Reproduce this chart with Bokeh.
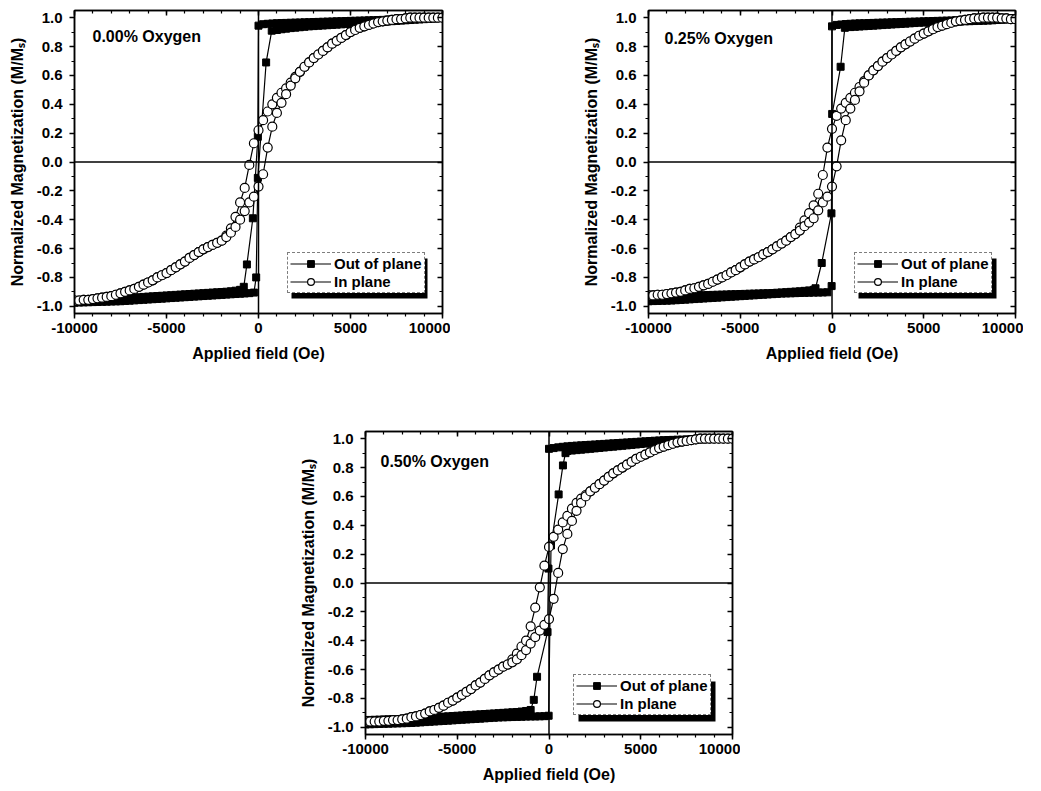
from bokeh.plotting import figure
from bokeh.models import (Range1d, LinearAxis, Span, Legend, LegendItem, BoxAnnotation,
                          Label, Spacer, SingleIntervalTicker, NumeralTickFormatter)
from bokeh.layouts import column, row
from bokeh.embed import file_html
from bokeh.resources import INLINE

FONT = "Liberation Sans"

# ---------------- field grids (Oe) ----------------
BAND_POS = [250, 500, 750, 1000, 1250, 1500, 1750, 2000, 2250, 2500,
            2750, 3000, 3250, 3500, 3750, 4000, 4250, 4500, 4750, 5000,
            5250, 5500, 5750, 6000, 6250, 6500, 6750, 7000, 7250, 7500,
            7750, 8000, 8250, 8500, 8750, 9000, 9250, 9500, 9750, 10000]
BAND_NEG = [-10000, -9750, -9500, -9250, -9000, -8750, -8500, -8250, -8000, -7750,
            -7500, -7250, -7000, -6750, -6500, -6250, -6000, -5750, -5500, -5250,
            -5000, -4750, -4500, -4250, -4000, -3750, -3500, -3250, -3000, -2750,
            -2500, -2250, -2000, -1750, -1500, -1250, -1000, -750, -500, -250]
G_MID = [-2000, -1750, -1500, -1250, -1000, -750, -500, -250, 0,
         250, 500, 750, 1000, 1250, 1500, 1750, 2000]
G_NEG = BAND_NEG[:32]      # -10000 .. -2250
G_POS = BAND_POS[8:]       # 2250 .. 10000
D_LOW_X = BAND_NEG[:37]    # -10000 .. -1000
A_UP_X = BAND_POS[3:]      # 1000 .. 10000

# ---------------- panel 1 : 0.00% Oxygen ----------------
IP1_NEG = [-0.96, -0.96, -0.955, -0.955, -0.95, -0.945, -0.94, -0.935, -0.93, -0.92,
           -0.91, -0.90, -0.89, -0.88, -0.865, -0.85, -0.835, -0.82, -0.80, -0.785,
           -0.77, -0.75, -0.73, -0.71, -0.69, -0.665, -0.645, -0.625, -0.605, -0.59,
           -0.575, -0.56]
IP1_DMID = [-0.545, -0.51, -0.46, -0.38, -0.28, -0.18, -0.02, 0.13, 0.22,
            0.29, 0.35, 0.40, 0.445, 0.48, 0.51, 0.55, 0.59]
IP1_AMID = [-0.545, -0.52, -0.49, -0.45, -0.40, -0.34, -0.28, -0.24, -0.17,
            -0.085, 0.10, 0.245, 0.34, 0.41, 0.47, 0.53, 0.58]
IP1_POS = [0.625, 0.66, 0.69, 0.72, 0.745, 0.77, 0.795, 0.82, 0.84, 0.86,
           0.88, 0.90, 0.915, 0.93, 0.94, 0.95, 0.96, 0.97, 0.975, 0.98,
           0.985, 0.99, 0.99, 0.995, 1.0, 1.0, 1.0, 1.0, 1.0, 1.0, 1.0, 1.0]
OP1_DUP = [0.955, 0.958, 0.960, 0.962, 0.963, 0.964, 0.965, 0.966, 0.967, 0.968,
           0.969, 0.970, 0.971, 0.972, 0.973, 0.974, 0.975, 0.976, 0.977, 0.978,
           0.979, 0.980, 0.981, 0.982, 0.983, 0.984, 0.985, 0.986, 0.987, 0.988,
           0.989, 0.990, 0.991, 0.992, 0.993, 0.994, 0.995, 0.996, 0.998, 1.000]
OP1_DMID_X = [0, -36, -306, -630, -800]
OP1_DMID_Y = [0.945, 0.175, -0.39, -0.71, -0.865]
OP1_DLOW = [-0.965, -0.963, -0.961, -0.959, -0.957, -0.955, -0.953, -0.951, -0.949, -0.947,
            -0.945, -0.943, -0.941, -0.939, -0.937, -0.935, -0.933, -0.931, -0.929, -0.927,
            -0.925, -0.923, -0.921, -0.919, -0.917, -0.915, -0.913, -0.911, -0.909, -0.907,
            -0.905, -0.903, -0.901, -0.899, -0.896, -0.892, -0.886]
OP1_ALOW = [-0.975, -0.974, -0.973, -0.972, -0.971, -0.970, -0.969, -0.968, -0.967, -0.966,
            -0.965, -0.963, -0.961, -0.959, -0.957, -0.955, -0.953, -0.951, -0.949, -0.947,
            -0.945, -0.943, -0.941, -0.939, -0.937, -0.935, -0.933, -0.931, -0.929, -0.927,
            -0.925, -0.923, -0.921, -0.919, -0.917, -0.915, -0.913, -0.911, -0.909, -0.905]
OP1_AMID_X = [-126, -36, 415, 720]
OP1_AMID_Y = [-0.80, -0.11, 0.69, 0.91]
OP1_AUP = [0.915, 0.920, 0.924, 0.928, 0.931, 0.934, 0.937, 0.940, 0.942, 0.944,
           0.946, 0.948, 0.950, 0.952, 0.954, 0.956, 0.958, 0.960, 0.962, 0.964,
           0.966, 0.968, 0.970, 0.972, 0.974, 0.976, 0.978, 0.980, 0.982, 0.984,
           0.986, 0.988, 0.990, 0.992, 0.994, 0.997, 1.000]

# ---------------- panel 2 : 0.25% Oxygen ----------------
IP2_NEG = [-0.925, -0.925, -0.92, -0.92, -0.915, -0.91, -0.905, -0.90, -0.89, -0.88,
           -0.875, -0.865, -0.855, -0.845, -0.83, -0.815, -0.80, -0.785, -0.765, -0.75,
           -0.73, -0.71, -0.69, -0.675, -0.66, -0.64, -0.625, -0.605, -0.585, -0.565,
           -0.545, -0.52]
IP2_DMID = [-0.50, -0.455, -0.405, -0.355, -0.30, -0.22, -0.09, 0.10, 0.23,
            0.32, 0.37, 0.41, 0.445, 0.48, 0.52, 0.56, 0.60]
IP2_AMID = [-0.50, -0.475, -0.445, -0.42, -0.39, -0.335, -0.28, -0.24, -0.17,
            -0.03, 0.15, 0.29, 0.37, 0.43, 0.49, 0.55, 0.60]
IP2_POS = [0.635, 0.665, 0.695, 0.72, 0.745, 0.77, 0.795, 0.815, 0.835, 0.855,
           0.875, 0.89, 0.905, 0.92, 0.935, 0.945, 0.955, 0.965, 0.975, 0.98,
           0.985, 0.99, 0.995, 0.995, 1.0, 1.0, 1.0, 1.0, 0.995, 0.995, 0.99, 0.99]
OP2_DUP = [0.950, 0.953, 0.956, 0.958, 0.960, 0.961, 0.962, 0.963, 0.964, 0.965,
           0.966, 0.967, 0.968, 0.969, 0.970, 0.971, 0.972, 0.973, 0.974, 0.975,
           0.976, 0.977, 0.978, 0.979, 0.980, 0.981, 0.982, 0.983, 0.984, 0.985,
           0.986, 0.987, 0.988, 0.989, 0.990, 0.991, 0.992, 0.993, 0.994, 0.995]
OP2_DMID_X = [0, -30, -560, -900]
OP2_DMID_Y = [0.94, -0.356, -0.70, -0.875]
OP2_DLOW = [-0.935, -0.934, -0.933, -0.932, -0.931, -0.930, -0.929, -0.928, -0.927, -0.926,
            -0.925, -0.924, -0.923, -0.922, -0.921, -0.920, -0.919, -0.918, -0.917, -0.916,
            -0.915, -0.914, -0.913, -0.912, -0.911, -0.910, -0.909, -0.908, -0.906, -0.904,
            -0.902, -0.900, -0.898, -0.896, -0.893, -0.890, -0.886]
OP2_ALOW = [-0.965, -0.964, -0.963, -0.962, -0.961, -0.960, -0.958, -0.956, -0.954, -0.952,
            -0.950, -0.948, -0.946, -0.944, -0.942, -0.940, -0.938, -0.936, -0.934, -0.932,
            -0.930, -0.928, -0.926, -0.924, -0.922, -0.920, -0.918, -0.916, -0.914, -0.912,
            -0.911, -0.910, -0.909, -0.908, -0.907, -0.906, -0.905, -0.905, -0.904, -0.903]
OP2_AMID_X = [-20, 10, 470, 700]
OP2_AMID_Y = [-0.86, 0.333, 0.66, 0.93]
OP2_AUP = [0.935, 0.937, 0.939, 0.941, 0.943, 0.945, 0.947, 0.949, 0.951, 0.953,
           0.955, 0.957, 0.959, 0.961, 0.963, 0.965, 0.966, 0.967, 0.968, 0.969,
           0.970, 0.971, 0.972, 0.973, 0.974, 0.975, 0.976, 0.977, 0.978, 0.979,
           0.980, 0.982, 0.984, 0.986, 0.988, 0.990, 0.992]

# ---------------- panel 3 : 0.50% Oxygen ----------------
IP3_NEG = [-0.96, -0.96, -0.96, -0.96, -0.955, -0.955, -0.95, -0.95, -0.945, -0.94,
           -0.93, -0.925, -0.915, -0.905, -0.89, -0.88, -0.865, -0.85, -0.83, -0.815,
           -0.795, -0.775, -0.755, -0.735, -0.71, -0.69, -0.665, -0.64, -0.62, -0.60,
           -0.58, -0.565]
IP3_DMID = [-0.53, -0.49, -0.44, -0.40, -0.30, -0.17, -0.03, 0.12, 0.25,
            0.32, 0.37, 0.42, 0.465, 0.515, 0.555, 0.585, 0.61]
IP3_AMID = [-0.55, -0.53, -0.50, -0.465, -0.42, -0.375, -0.33, -0.29, -0.25,
            -0.11, 0.07, 0.235, 0.34, 0.43, 0.50, 0.555, 0.60]
IP3_POS = [0.635, 0.66, 0.685, 0.71, 0.735, 0.76, 0.78, 0.80, 0.82, 0.84,
           0.86, 0.875, 0.89, 0.905, 0.92, 0.935, 0.945, 0.955, 0.965, 0.975,
           0.98, 0.985, 0.99, 0.995, 1.0, 1.0, 1.0, 1.0, 1.0, 1.0, 1.0, 1.0]
OP3_DUP = [0.935, 0.940, 0.944, 0.947, 0.950, 0.952, 0.954, 0.956, 0.958, 0.960,
           0.962, 0.964, 0.966, 0.968, 0.970, 0.972, 0.974, 0.976, 0.978, 0.980,
           0.982, 0.984, 0.986, 0.988, 0.990, 0.991, 0.992, 0.993, 0.994, 0.995,
           0.996, 0.997, 0.997, 0.998, 0.998, 0.999, 0.999, 1.000, 1.000, 1.000]
OP3_DMID_X = [0, -30, -80, -650, -830]
OP3_DMID_Y = [0.93, 0.10, -0.34, -0.65, -0.81]
OP3_DLOW = [-0.950, -0.949, -0.948, -0.947, -0.946, -0.945, -0.944, -0.943, -0.942, -0.941,
            -0.940, -0.938, -0.936, -0.934, -0.932, -0.930, -0.928, -0.926, -0.924, -0.922,
            -0.920, -0.918, -0.916, -0.914, -0.912, -0.910, -0.908, -0.906, -0.904, -0.902,
            -0.900, -0.898, -0.896, -0.894, -0.891, -0.887, -0.880]
OP3_ALOW = [-0.980, -0.979, -0.978, -0.977, -0.976, -0.975, -0.974, -0.973, -0.972, -0.971,
            -0.970, -0.968, -0.966, -0.964, -0.962, -0.960, -0.958, -0.956, -0.954, -0.952,
            -0.950, -0.948, -0.946, -0.944, -0.942, -0.940, -0.938, -0.936, -0.934, -0.932,
            -0.931, -0.930, -0.929, -0.928, -0.927, -0.926, -0.925, -0.925, -0.924, -0.923]
OP3_AMID_X = [-20, 110, 525, 760, 900]
OP3_AMID_Y = [-0.92, 0.26, 0.614, 0.815, 0.90]
OP3_AUP = [0.915, 0.918, 0.921, 0.924, 0.927, 0.930, 0.933, 0.936, 0.939, 0.942,
           0.945, 0.948, 0.951, 0.954, 0.957, 0.960, 0.963, 0.966, 0.969, 0.972,
           0.975, 0.978, 0.981, 0.984, 0.986, 0.988, 0.990, 0.992, 0.994, 0.995,
           0.996, 0.997, 0.998, 0.999, 1.000, 1.000, 1.000]

TITLES = ["0.00% Oxygen", "0.25% Oxygen", "0.50% Oxygen"]
X_LABEL = "Applied field (Oe)"
Y_LABEL = "Normalized Magnetization (M/M\u209b)"
LEGEND_LABELS = ["Out of plane", "In plane"]

for lst, n in [(IP1_NEG, 32), (IP1_POS, 32), (IP1_DMID, 17), (IP1_AMID, 17),
               (IP2_NEG, 32), (IP2_POS, 32), (IP2_DMID, 17), (IP2_AMID, 17),
               (IP3_NEG, 32), (IP3_POS, 32), (IP3_DMID, 17), (IP3_AMID, 17),
               (OP1_DUP, 40), (OP1_DLOW, 37), (OP1_ALOW, 40), (OP1_AUP, 37),
               (OP2_DUP, 40), (OP2_DLOW, 37), (OP2_ALOW, 40), (OP2_AUP, 37),
               (OP3_DUP, 40), (OP3_DLOW, 37), (OP3_ALOW, 40), (OP3_AUP, 37)]:
    assert len(lst) == n, (len(lst), n)


def style_axis(ax, mirror=False, dim="x"):
    ax.axis_line_color = "black"
    ax.axis_line_width = 1.5
    ax.major_tick_line_color = "black"
    ax.minor_tick_line_color = "black"
    ax.major_tick_line_width = 1.5
    ax.minor_tick_line_width = 1.2
    if mirror:
        ax.major_tick_in, ax.major_tick_out = 5, 0
        ax.minor_tick_in, ax.minor_tick_out = 3, 0
        ax.major_label_text_color = None
        ax.major_label_text_alpha = 0
        ax.major_label_standoff = 0
    else:
        ax.major_tick_in, ax.major_tick_out = 0, 5
        ax.minor_tick_in, ax.minor_tick_out = 0, 3
        ax.major_label_text_font = FONT
        ax.major_label_text_font_style = "bold"
        ax.major_label_text_font_size = "15px"
        ax.major_label_text_color = "black"
        ax.major_label_standoff = 4 if dim == "x" else 7
        ax.axis_label_text_font = FONT
        ax.axis_label_text_font_style = "bold"
        ax.axis_label_text_font_size = "16px"
        ax.axis_label_text_color = "black"
        ax.axis_label_standoff = 9 if dim == "x" else 8


def make_panel(title, ip, op, fw, fh, top, leg, label_off, shadow_off):
    bl, br, bb = 74, 8, 56
    p = figure(width=bl + fw + br, height=top + fh + bb,
               x_range=Range1d(-10000, 10000), y_range=Range1d(-1.05, 1.05),
               output_backend="svg", toolbar_location=None,
               x_axis_type=None, y_axis_type=None,
               min_border_left=bl, min_border_right=br,
               min_border_top=top, min_border_bottom=bb)
    p.grid.visible = False
    p.outline_line_color = "black"
    p.outline_line_width = 1.5
    p.background_fill_color = "white"

    def xt():
        return SingleIntervalTicker(interval=5000, num_minor_ticks=5)

    def yt():
        return SingleIntervalTicker(interval=0.2, num_minor_ticks=2)

    xb = LinearAxis(ticker=xt(), axis_label=X_LABEL,
                    formatter=NumeralTickFormatter(format="0"))
    style_axis(xb, dim="x")
    p.add_layout(xb, "below")
    yl = LinearAxis(ticker=yt(), axis_label=Y_LABEL,
                    formatter=NumeralTickFormatter(format="0.0"))
    style_axis(yl, dim="y")
    p.add_layout(yl, "left")
    xa = LinearAxis(ticker=xt())
    style_axis(xa, mirror=True)
    p.add_layout(xa, "above")
    yr = LinearAxis(ticker=yt())
    style_axis(yr, mirror=True)
    p.add_layout(yr, "right")

    p.add_layout(Span(location=0, dimension="width", line_color="black", line_width=1.3))
    p.add_layout(Span(location=0, dimension="height", line_color="black", line_width=1.5))

    neg, dmid, amid, pos = ip
    dup, dmx, dmy, dlow, alow, amx, amy, aup = op
    # out-of-plane loop
    dx = list(reversed(BAND_POS)) + dmx + list(reversed(D_LOW_X))
    dy = list(reversed(dup)) + dmy + list(reversed(dlow))
    ax_ = BAND_NEG + amx + A_UP_X
    ay_ = alow + amy + aup
    ol1 = p.line(dx, dy, line_color="black", line_width=1.2)
    os1 = p.scatter(dx, dy, marker="square", size=7, fill_color="black", line_color="black")
    p.line(ax_, ay_, line_color="black", line_width=1.2)
    p.scatter(ax_, ay_, marker="square", size=7, fill_color="black", line_color="black")
    # in-plane loop
    ipx = G_NEG + G_MID + G_POS
    idy = neg + dmid + pos
    iay = neg + amid + pos
    il1 = p.line(ipx, idy, line_color="black", line_width=1.2)
    p.line(ipx, iay, line_color="black", line_width=1.2)
    is1 = p.scatter(ipx, idy, marker="circle", size=9, fill_color="white",
                    line_color="black", line_width=1.2)
    p.scatter(ipx, iay, marker="circle", size=9, fill_color="white",
              line_color="black", line_width=1.2)

    def xd(px):
        return -10000 + px * 20000.0 / fw

    def yd(px):
        return -1.05 + px * 2.1 / fh

    p.add_layout(Label(x=xd(label_off[0]), y=yd(fh - label_off[1]), text=title,
                       text_font=FONT, text_font_style="bold", text_font_size="16px",
                       text_align="left", text_baseline="top", text_color="black"))

    lx, ly, lw, lh = leg
    p.add_layout(BoxAnnotation(left=xd(lx + shadow_off), right=xd(lx + lw + shadow_off),
                               bottom=yd(ly - shadow_off - 1), top=yd(ly + lh - shadow_off),
                               fill_color="black", fill_alpha=1.0, line_color=None))
    legend = Legend(items=[LegendItem(label=LEGEND_LABELS[0], renderers=[ol1, os1]),
                           LegendItem(label=LEGEND_LABELS[1], renderers=[il1, is1])],
                    location=(lx, ly), orientation="vertical",
                    border_line_color="black", border_line_dash="dotted", border_line_width=1,
                    background_fill_color="white", background_fill_alpha=1.0,
                    label_text_font=FONT, label_text_font_style="bold",
                    label_text_font_size="15px", label_text_color="black",
                    glyph_width=41, glyph_height=17, label_height=17,
                    label_standoff=3, padding=2, spacing=1, margin=0)
    p.add_layout(legend)
    return p


p1 = make_panel(TITLES[0], (IP1_NEG, IP1_DMID, IP1_AMID, IP1_POS),
                (OP1_DUP, OP1_DMID_X, OP1_DMID_Y, OP1_DLOW, OP1_ALOW, OP1_AMID_X, OP1_AMID_Y, OP1_AUP),
                368, 303, 10, (213, 20, 136, 39), (18, 17), 4)
p2 = make_panel(TITLES[1], (IP2_NEG, IP2_DMID, IP2_AMID, IP2_POS),
                (OP2_DUP, OP2_DMID_X, OP2_DMID_Y, OP2_DLOW, OP2_ALOW, OP2_AMID_X, OP2_AMID_Y, OP2_AUP),
                367, 303, 10, (206, 20, 138, 39), (16, 19), 4)
p3 = make_panel(TITLES[2], (IP3_NEG, IP3_DMID, IP3_AMID, IP3_POS),
                (OP3_DUP, OP3_DMID_X, OP3_DMID_Y, OP3_DLOW, OP3_ALOW, OP3_AMID_X, OP3_AMID_Y, OP3_AUP),
                367, 303, 62, (208, 19, 137, 39), (15, 21), 5)

layout = column(row(p1, Spacer(width=124, height=369), p2),
                row(Spacer(width=291, height=421), p3))

open("out.html", "w").write(file_html(layout, INLINE))
